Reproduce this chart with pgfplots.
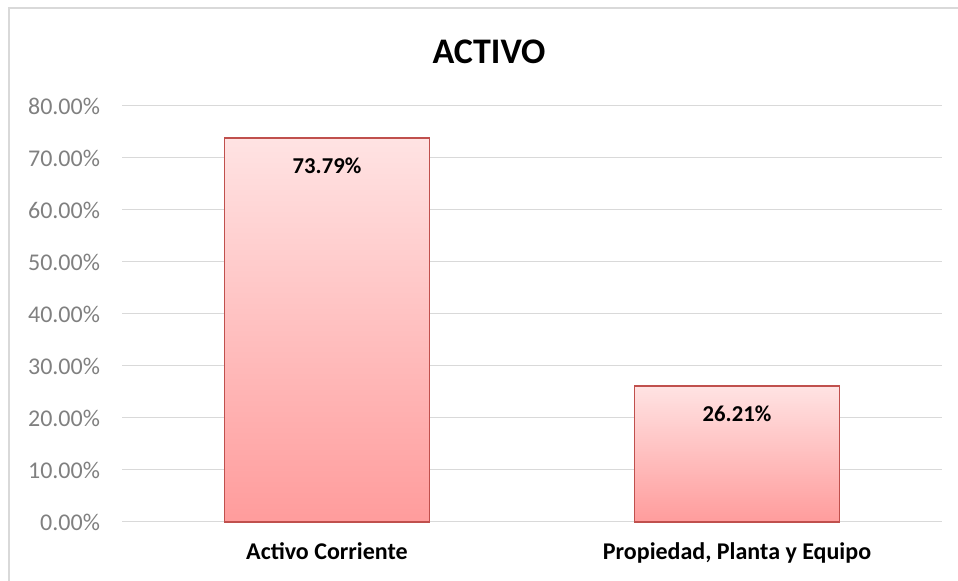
\documentclass[border=0pt]{standalone}
\usepackage{pgfplots}
\pgfplotsset{compat=1.18}
\usepackage{fontspec}
\setmainfont{Carlito}
\definecolor{gridc}{HTML}{D9D9D9}
\definecolor{framec}{HTML}{D9D9D9}
\definecolor{tickc}{HTML}{808080}
\definecolor{bartop}{HTML}{FFE3E3}
\definecolor{barbot}{HTML}{FF9C9C}
\definecolor{bardraw}{HTML}{C0504D}
\begin{document}
\begin{tikzpicture}
\useasboundingbox (0,0) rectangle (718.5pt,435.75pt);
\draw[framec, line width=1.5pt] (6.75pt,0) -- (6.75pt,429.75pt) -- (718.5pt,429.75pt);
\begin{axis}[
  at={(91.5pt,44.25pt)}, anchor=south west,
  scale only axis, width=615pt, height=312pt,
  xmin=-0.5, xmax=1.5, ymin=0, ymax=80,
  ytick={0,10,...,80},
  xtick={0,1},
  xticklabels={Activo Corriente, {Propiedad, Planta y Equipo}},
  ymajorgrids, grid style={gridc, line width=0.75pt},
  axis line style={draw=none},
  major tick length=0pt,
  /pgf/number format/assume math mode=true,
  yticklabel={\pgfmathprintnumber[fixed,fixed zerofill,precision=2]{\tick}\%},
  yticklabel style={font=\fontsize{18}{21}\selectfont, text=tickc, xshift=-13pt},
  xticklabel style={font=\fontsize{18}{21}\selectfont\bfseries, text=black, yshift=-12pt},
  clip=false,
  barstyle/.style={ybar, bar width=0.5, bar shift=0pt, draw=bardraw, line width=1.3pt,
    top color=bartop, bottom color=barbot,
    nodes near coords={\pgfmathprintnumber[fixed,fixed zerofill,precision=2]{\pgfplotspointmeta}\%},
    every node near coord/.append style={anchor=north, yshift=-11pt, font=\fontsize{17}{20}\selectfont\bfseries, text=black}},
]
\addplot[barstyle] coordinates {(0,73.79)};
\addplot[barstyle] coordinates {(1,26.21)};
\end{axis}
\node[font=\fontsize{27}{32}\selectfont\bfseries] at (366.75pt,396.75pt) {ACTIVO};
\end{tikzpicture}
\end{document}
